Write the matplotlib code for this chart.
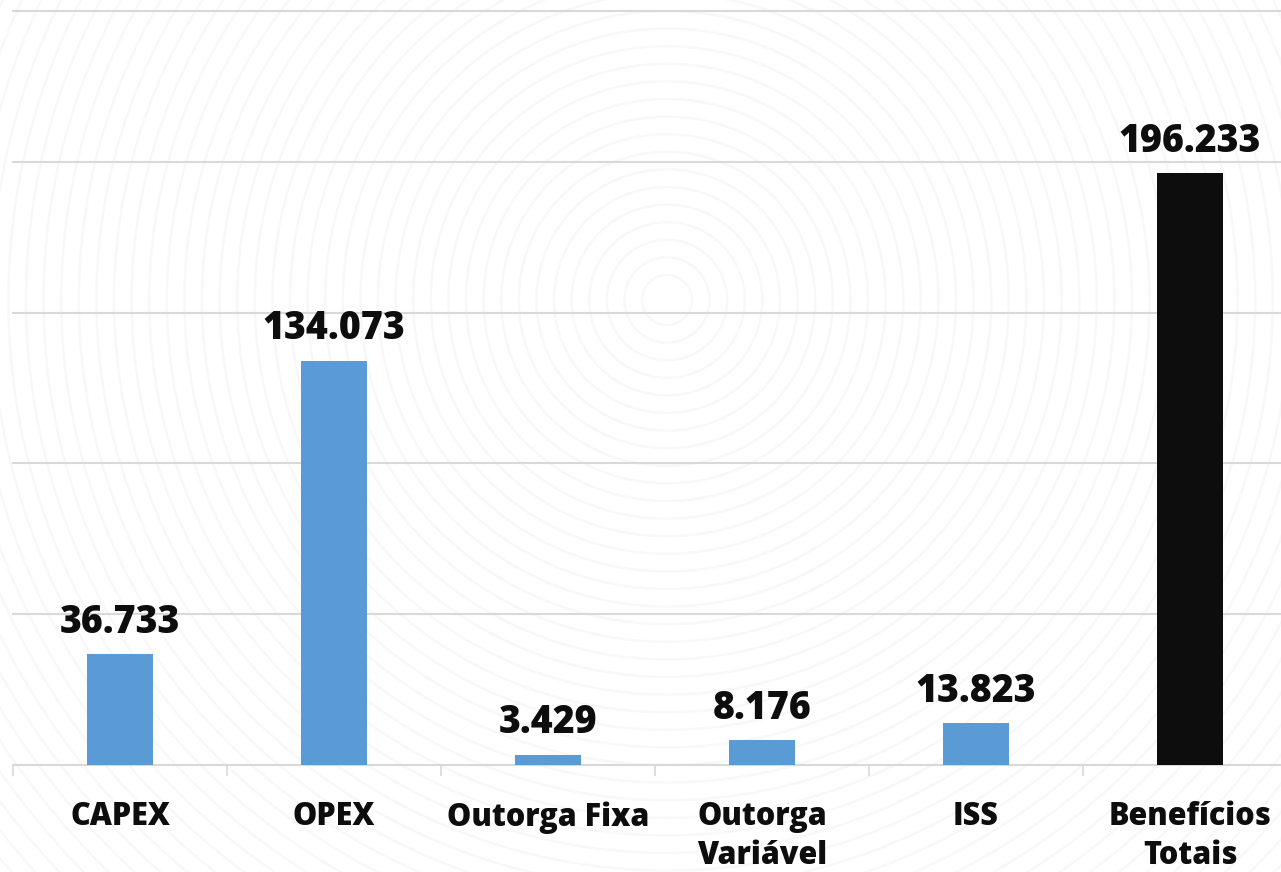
import matplotlib.pyplot as plt
from matplotlib.patches import Circle

categorias = ["CAPEX", "OPEX", "Outorga Fixa", "Outorga\nVariável", "ISS", "Benefícios\nTotais"]
valores = [36.733, 134.073, 3.429, 8.176, 13.823, 196.233]
cores = ["#5b9bd5", "#5b9bd5", "#5b9bd5", "#5b9bd5", "#5b9bd5", "#0d0d0d"]

plt.rcParams['font.family'] = ['Open Sans', 'DejaVu Sans']
W, H = 1281, 872
fig = plt.figure(figsize=(W / 100, H / 100), dpi=100)

# fundo com circulos concentricos bem claros
bg = fig.add_axes([0, 0, 1, 1], zorder=-1)
bg.set_xlim(0, W)
bg.set_ylim(H, 0)
bg.axis('off')
r = 25
while r < 1100:
    bg.add_patch(Circle((667, 300), r, fill=False, ec='#f8f8f8', lw=1.8))
    r += 17.6

# eixo principal
ax = fig.add_axes([13 / W, (H - 765) / H, 1284 / W, (765 - 11.25) / H])
ax.set_facecolor('none')
x = range(len(categorias))
bars = ax.bar(x, valores, width=0.31, color=cores, zorder=3)
ax.set_xlim(-0.5, len(categorias) - 0.5)
ax.set_ylim(0, 250)
ax.set_yticks([50, 100, 150, 200, 250])
ax.yaxis.grid(True, color='#d9d9d9', lw=1.5, zorder=0)
ax.tick_params(axis='y', left=False, labelleft=False)
for g in ax.get_ygridlines():
    g.set_clip_on(False)
for s in ['top', 'right', 'left']:
    ax.spines[s].set_visible(False)
ax.spines['bottom'].set_color('#d9d9d9')
ax.spines['bottom'].set_linewidth(1.5)

ax.set_xticks(list(x))
ax.set_xticklabels(categorias, fontsize=22, fontweight='heavy', color='#0d0d0d', linespacing=1.3)
ax.tick_params(axis='x', which='major', length=0, pad=26)
ax.set_xticks([i - 0.5 for i in range(len(categorias) + 1)], minor=True)
ax.tick_params(axis='x', which='minor', length=8, color='#d9d9d9', width=1.2)

for b, v in zip(bars, valores):
    ax.annotate(f"{v:.3f}", (b.get_x() + b.get_width() / 2, v), xytext=(0, 9),
                textcoords='offset points', ha='center', va='bottom',
                fontsize=27, fontweight='heavy', color='#0d0d0d')

fig.savefig('out.png', dpi=100)
